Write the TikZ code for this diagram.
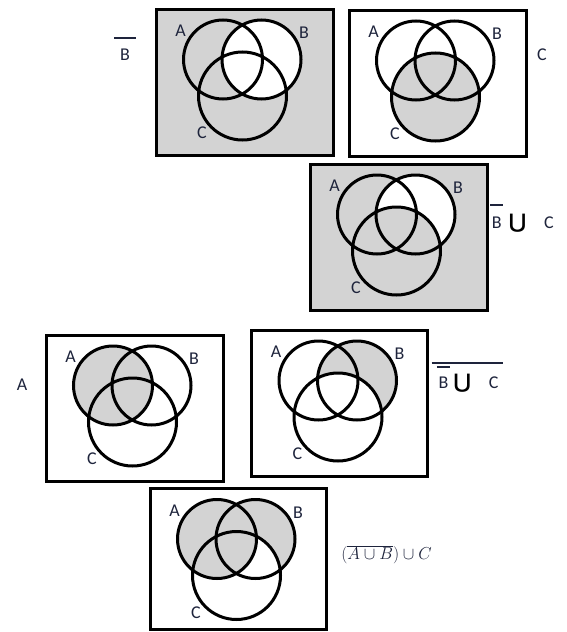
\documentclass[tikz,border=0pt]{standalone}
\usepackage{fontspec}
\setmainfont{Carlito}
\newfontfamily\dejavu{DejaVu Sans}
\definecolor{vgray}{RGB}{211,211,211}
\definecolor{lab}{RGB}{30,36,60}
\newcommand\obar[3]{\leavevmode\vbox{\hbox to #1{\hss\vrule width #1 height 1.5pt\hss}\kern#2\hbox to #1{\hss#3\hss}}}
\newcommand\bigcupsym{{\color{black}\dejavu\bfseries\fontsize{20}{20}\selectfont ⋃}}
\tikzset{
 panelbox/.style={draw=black, line width=3.2pt, minimum width=177pt, minimum height=146pt, inner sep=0pt, anchor=north west},
 ring/.style={draw=black, line width=3pt},
 setlab/.style={text=lab, font=\fontsize{18}{18}\selectfont, inner sep=0pt},
 outlab/.style={text=lab, font=\fontsize{18}{18}\selectfont, inner sep=0pt},
}
\newcommand\vcenters[1]{%
 \coordinate (#1cA) at (68.5,52);
 \coordinate (#1cB) at (107,52);
 \coordinate (#1cC) at (88,88.5);}
\newcommand\vrings[1]{%
 \draw[ring] (#1cA) circle[radius=39.5pt];
 \draw[ring] (#1cB) circle[radius=39.5pt];
 \draw[ring] (#1cC) circle[radius=44pt];
 \node[setlab] (#1lA) at (26,23.5) {A};
 \node[setlab] (#1lB) at (149.5,25.5) {B};
 \node[setlab] (#1lC) at (47.5,125.5) {C};}
\begin{document}
\begin{tikzpicture}[x=1pt,y=-1pt]
\useasboundingbox[fill=white] (0,0) rectangle (566,632);
% Panel 1: complement of B
\begin{scope}[shift={(154.5,7.5)}]
 \vcenters{p1}
 \node[panelbox, fill=vgray] (p1box) at (0,0) {};
 \fill[white] (p1cB) circle[radius=39.5pt];
 \vrings{p1}
\end{scope}
\node[outlab] (p1lab) at (125,49) {\obar{22pt}{4pt}{B}};
% Panel 2: C
\begin{scope}[shift={(347.5,8.5)}]
 \vcenters{p2}
 \node[panelbox] (p2box) at (0,0) {};
 \fill[vgray] (p2cC) circle[radius=44pt];
 \vrings{p2}
\end{scope}
\node[outlab] (p2lab) at (542,55) {C};
% Panel 3: Bbar union C
\begin{scope}[shift={(308.5,162.5)}]
 \vcenters{p3}
 \node[panelbox, fill=vgray] (p3box) at (0,0) {};
 \fill[white] (p3cB) circle[radius=39.5pt];
 \fill[vgray] (p3cC) circle[radius=44pt];
 \vrings{p3}
\end{scope}
\node[outlab, anchor=base west] (p3lab) at (490,228) {\obar{13pt}{4.5pt}{B}\hspace{6pt}\bigcupsym\hspace{18pt}C};
% Panel 4: A
\begin{scope}[shift={(44.5,333.5)}]
 \vcenters{p4}
 \node[panelbox] (p4box) at (0,0) {};
 \fill[vgray] (p4cA) circle[radius=39.5pt];
 \vrings{p4}
\end{scope}
\node[outlab] (p4lab) at (22,385) {A};
% Panel 5: complement of (Bbar union C)
\begin{scope}[shift={(250,328.5)}]
 \vcenters{p5}
 \node[panelbox, minimum width=176pt] (p5box) at (0,0) {};
 \fill[vgray] (p5cB) circle[radius=39.5pt];
 \fill[white] (p5cC) circle[radius=44pt];
 \vrings{p5}
\end{scope}
\node[outlab, anchor=base west] (p5lab) at (431.5,388.3) {\obar{71pt}{1.5pt}{\hspace*{4pt}\obar{13pt}{2.5pt}{B}\hspace{4pt}\bigcupsym\hspace{18pt}C\hspace{3pt}}};
% Panel 6
\begin{scope}[shift={(148.5,487)}]
 \vcenters{p6}
 \node[panelbox, minimum width=176pt, minimum height=141pt] (p6box) at (0,0) {};
 \fill[vgray] (p6cB) circle[radius=39.5pt];
 \fill[white] (p6cC) circle[radius=44pt];
 \fill[vgray] (p6cA) circle[radius=39.5pt];
 \vrings{p6}
\end{scope}
\node[text=lab, inner sep=0pt, font=\fontsize{16}{16}\selectfont] (p6lab) at (386.5,555) {$(\overline{A\cup B})\cup C$};
\end{tikzpicture}
\end{document}
